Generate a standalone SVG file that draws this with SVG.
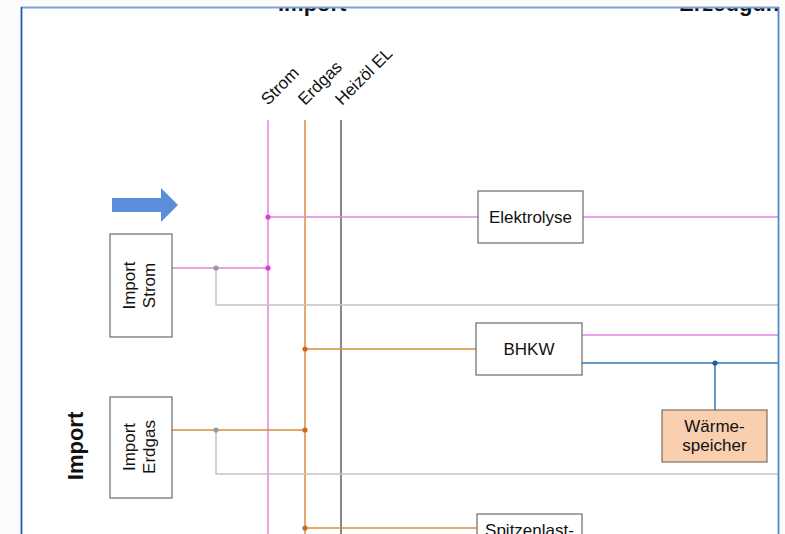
<svg xmlns="http://www.w3.org/2000/svg" width="785" height="534" viewBox="0 0 785 534">
  <style>
    .box { fill: #ffffff; stroke: #6b6b6b; stroke-width: 1.2; }
    .store { fill: #f9cfb0; stroke: #7a6e64; stroke-width: 1.2; }
    .lbl { font-family: "Liberation Sans", Arial, sans-serif; font-size: 17px; fill: #111; }
    .head { font-family: "Liberation Sans", Arial, sans-serif; font-size: 22px; font-weight: bold; fill: #111; }
    .bus { font-family: "Liberation Sans", Arial, sans-serif; font-size: 17px; fill: #111; }
    .el { stroke: #e282e6; stroke-width: 1.5; fill: none; }
    .gas { stroke: #d98b3c; stroke-width: 1.5; fill: none; }
    .oil { stroke: #5e5e5e; stroke-width: 1.5; fill: none; }
    .grey { stroke: #c4c4c4; stroke-width: 1.5; fill: none; }
    .heat { stroke: #2f78b6; stroke-width: 1.5; fill: none; }
    .dot-el { fill: #d83ed8; }
    .dot-gas { fill: #cc6a1c; }
    .dot-grey { fill: #9a9a9a; }
    .dot-heat { fill: #1c5c98; }
  </style>
  <defs>
    <clipPath id="frame">
      <rect x="21" y="8" width="757" height="526"/>
    </clipPath>
  </defs>

  <rect x="0" y="0" width="785" height="534" fill="#fcfcfc"/>
  <rect x="21" y="8" width="757" height="526" fill="#ffffff"/>

  <g clip-path="url(#frame)">
    <!-- section headings (run past the page edge) -->
    <text class="head" x="278" y="11">Import</text>
    <text class="head" x="679" y="11">Erzeugun</text>
    <text class="head" transform="translate(83,446) rotate(-90)" text-anchor="middle">Import</text>

    <!-- bus labels -->
    <text class="bus" transform="translate(268,106) rotate(-45)">Strom</text>
    <text class="bus" transform="translate(305,106) rotate(-45)">Erdgas</text>
    <text class="bus" transform="translate(342,106) rotate(-45)">Heizöl EL</text>

    <!-- flow direction arrow -->
    <polygon points="112,198 161,198 161,188 178,205 161,222 161,212 112,212" fill="#5b8ed8"/>

    <g id="connectors">
      <!-- busbars -->
      <line class="el" x1="268" y1="120" x2="268" y2="534"/>
      <line class="gas" x1="305" y1="120" x2="305" y2="534"/>
      <line class="oil" x1="341" y1="120" x2="341" y2="534"/>

      <!-- electricity -->
      <line class="el" x1="268" y1="217" x2="478" y2="217"/>
      <line class="el" x1="583" y1="217" x2="778" y2="217"/>
      <line class="el" x1="172" y1="268" x2="268" y2="268"/>
      <line class="el" x1="582" y1="335" x2="778" y2="335"/>

      <!-- grey import bypasses -->
      <polyline class="grey" points="216,268 216,305 778,305"/>
      <polyline class="grey" points="216,430 216,474 778,474"/>

      <!-- gas -->
      <line class="gas" x1="305" y1="349" x2="476" y2="349"/>
      <line class="gas" x1="172" y1="430" x2="305" y2="430"/>
      <line class="gas" x1="305" y1="528" x2="477" y2="528"/>

      <!-- heat -->
      <line class="heat" x1="582" y1="363" x2="778" y2="363"/>
      <line class="heat" x1="715" y1="363" x2="715" y2="410"/>

      <!-- junctions -->
      <circle class="dot-el" cx="268" cy="217" r="2.6"/>
      <circle class="dot-el" cx="268" cy="268" r="2.6"/>
      <circle class="dot-grey" cx="216" cy="268" r="2.6"/>
      <circle class="dot-gas" cx="305" cy="349" r="2.6"/>
      <circle class="dot-grey" cx="216" cy="430" r="2.6"/>
      <circle class="dot-gas" cx="305" cy="430" r="2.6"/>
      <circle class="dot-gas" cx="305" cy="528" r="2.6"/>
      <circle class="dot-heat" cx="715" cy="363" r="2.6"/>
    </g>

    <g id="import-strom">
      <rect class="box" x="110" y="234" width="62" height="103"/>
      <g transform="translate(141,285.5) rotate(-90)">
        <text class="lbl" x="0" y="-6" text-anchor="middle">Import</text>
        <text class="lbl" x="0" y="14" text-anchor="middle">Strom</text>
      </g>
    </g>

    <g id="import-erdgas">
      <rect class="box" x="110" y="397" width="62" height="101"/>
      <g transform="translate(141,447) rotate(-90)">
        <text class="lbl" x="0" y="-6" text-anchor="middle">Import</text>
        <text class="lbl" x="0" y="14" text-anchor="middle">Erdgas</text>
      </g>
    </g>

    <g id="elektrolyse">
      <rect class="box" x="478" y="191" width="105" height="52"/>
      <text class="lbl" x="530.5" y="223" text-anchor="middle">Elektrolyse</text>
    </g>

    <g id="bhkw">
      <rect class="box" x="476" y="323" width="106" height="52"/>
      <text class="lbl" x="529" y="355" text-anchor="middle">BHKW</text>
    </g>

    <g id="waermespeicher">
      <rect class="store" x="662" y="410" width="105" height="52"/>
      <text class="lbl" x="714.5" y="432" text-anchor="middle">Wärme-</text>
      <text class="lbl" x="714.5" y="451" text-anchor="middle">speicher</text>
    </g>

    <g id="spitzenlast">
      <rect class="box" x="477" y="514" width="105" height="52"/>
      <text class="lbl" x="529.5" y="536" text-anchor="middle">Spitzenlast-</text>
    </g>
  </g>

  <!-- page frame -->
  <line x1="21" y1="7.5" x2="779" y2="7.5" stroke="#7ba6d8" stroke-width="2"/>
  <line x1="21.5" y1="7" x2="21.5" y2="534" stroke="#1f5ea6" stroke-width="1.8"/>
  <line x1="778.5" y1="7" x2="778.5" y2="534" stroke="#4f88cc" stroke-width="1.8"/>
</svg>
